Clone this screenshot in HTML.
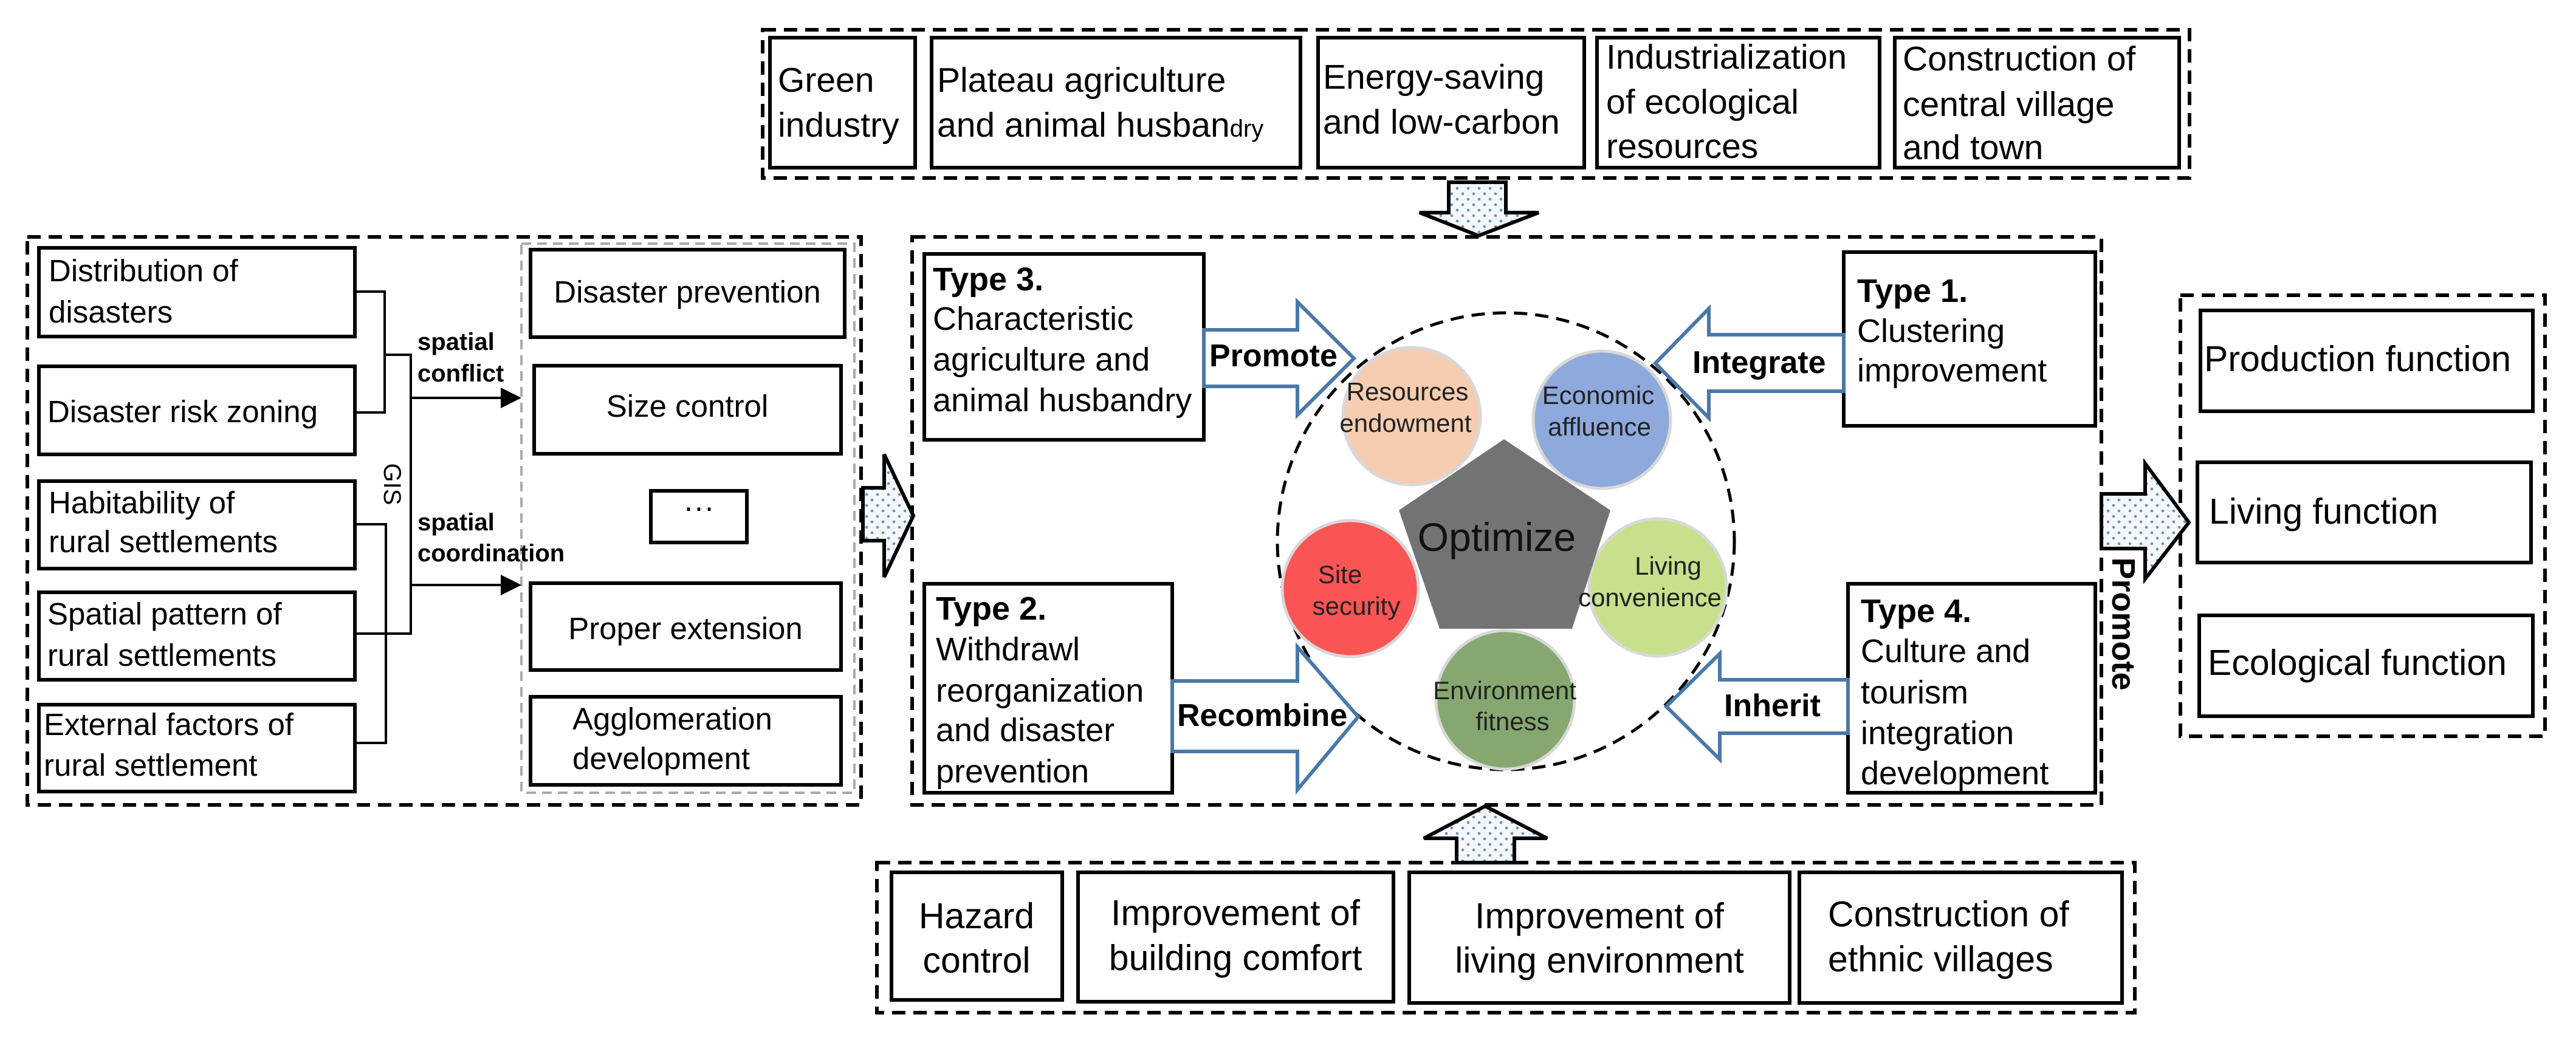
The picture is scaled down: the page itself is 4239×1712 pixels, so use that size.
<!DOCTYPE html>
<html><head><meta charset="utf-8"><style>html,body{margin:0;padding:0;background:#fff}svg{display:block}</style></head>
<body>
<svg xmlns="http://www.w3.org/2000/svg" width="4239" height="1712" viewBox="0 0 4239 1712" font-family="Liberation Sans, Arial, sans-serif">
<defs>
<pattern id="dots" width="18" height="18" patternUnits="userSpaceOnUse">
<rect width="18" height="18" fill="#f4f8fc"/>
<circle cx="4" cy="4" r="2.3" fill="#6a8fb8"/>
<circle cx="13" cy="13" r="2.3" fill="#6a8fb8"/>
</pattern>
</defs>
<g fill="none" stroke="#000" stroke-width="6" stroke-dasharray="22 13">
<rect x="1255" y="49" width="2348" height="244"/>
<rect x="45" y="390" width="1372" height="935"/>
<rect x="1501" y="390" width="1957" height="935"/>
<rect x="3588" y="486" width="600" height="726"/>
<rect x="1443" y="1420" width="2070" height="247"/>
<circle cx="2478" cy="891" r="376" stroke-width="5"/>
</g>
<rect x="858" y="401" width="548" height="904" fill="none" stroke="#aaa" stroke-width="4" stroke-dasharray="16 10"/>
<g fill="#fff" stroke="#000" stroke-width="6">
<rect x="1267" y="62" width="239" height="214"/>
<rect x="1533" y="62" width="607" height="214"/>
<rect x="2169" y="62" width="438" height="214"/>
<rect x="2628" y="62" width="465" height="214"/>
<rect x="3118" y="62" width="468" height="214"/>
<rect x="64" y="408" width="520" height="146"/>
<rect x="64" y="603" width="520" height="145"/>
<rect x="64" y="792" width="520" height="144"/>
<rect x="64" y="975" width="520" height="144"/>
<rect x="64" y="1160" width="520" height="143"/>
<rect x="873" y="411" width="517" height="144"/>
<rect x="879" y="602" width="505" height="145"/>
<rect x="1071" y="808" width="158" height="85"/>
<rect x="873" y="960" width="511" height="143"/>
<rect x="873" y="1147" width="511" height="145"/>
<rect x="1521" y="418" width="460" height="306"/>
<rect x="1521" y="961" width="408" height="344"/>
<rect x="3034" y="415" width="414" height="286"/>
<rect x="3041" y="961" width="407" height="344"/>
<rect x="3621" y="511" width="547" height="166"/>
<rect x="3616" y="761" width="549" height="165"/>
<rect x="3619" y="1013" width="549" height="166"/>
<rect x="1467" y="1436" width="281" height="210"/>
<rect x="1774" y="1436" width="519" height="213"/>
<rect x="2319" y="1436" width="626" height="215"/>
<rect x="2961" y="1436" width="531" height="215"/>
</g>
<g fill="none" stroke="#000" stroke-width="4">
<polyline points="584,480 633,480 633,679 584,679"/>
<polyline points="633,584 676,584 676,1043 584,1043"/>
<polyline points="584,863 635,863 635,1223 584,1223"/>
<line x1="676" y1="655" x2="826" y2="655"/>
<line x1="676" y1="963" x2="826" y2="963"/>
</g>
<polygon points="824,638 858,655 824,672" fill="#000"/>
<polygon points="824,946 858,963 824,980" fill="#000"/>
<g fill="url(#dots)" stroke="#000" stroke-width="6" stroke-linejoin="miter">
<polygon points="2384,300 2478,300 2478,350 2532,350 2433,388 2336,350 2384,350"/>
<polygon points="1420,803 1455,803 1455,748 1503,849 1455,950 1455,890 1420,890"/>
<polygon points="3458,813 3530,813 3530,763 3602,860 3530,953 3530,903 3458,903"/>
<polygon points="2397,1420 2492,1420 2492,1380 2546,1380 2444,1327 2343,1380 2397,1380"/>
</g>
<g fill="#fff" stroke="#4a78a8" stroke-width="6">
<polygon points="1981,543 2135,543 2135,497 2228,590 2135,683 2135,636 1981,636"/>
<polygon points="1929,1121 2135,1121 2135,1065 2235,1180 2135,1300 2135,1237 1929,1237"/>
<polygon points="3034,551 2812,551 2812,508 2724,598 2812,688 2812,644 3034,644"/>
<polygon points="3041,1119 2830,1119 2830,1076 2742,1163 2830,1250 2830,1207 3041,1207"/>
</g>
<g stroke="#d8d8d8" stroke-width="5">
<circle cx="2323" cy="685" r="113" fill="#f6cdb0"/>
<circle cx="2636" cy="691" r="113" fill="#8ea9db"/>
<circle cx="2222" cy="969" r="112" fill="#fa5454"/>
<circle cx="2728" cy="967" r="113" fill="#c6e08c"/>
<circle cx="2477" cy="1152" r="114" fill="#86a870"/>
</g>
<polygon points="2475,723 2650,840 2587,1035 2369,1035 2302,840" fill="#737373"/>
<g font-size="57" fill="#000">
<text x="1280" y="151">Green</text><text x="1280" y="225">industry</text>
<text x="1542" y="151">Plateau agriculture</text><text x="1542" y="225">and animal husban<tspan font-size="40">dry</tspan></text>
<text x="2177" y="146">Energy-saving</text><text x="2177" y="220">and low-carbon</text>
<text x="2643" y="113">Industrialization</text><text x="2643" y="187">of ecological</text><text x="2643" y="260">resources</text>
<text x="3131" y="116">Construction of</text><text x="3131" y="191">central village</text><text x="3131" y="262">and town</text>
</g>
<g font-size="51" fill="#000">
<text x="80" y="463">Distribution of</text><text x="80" y="531">disasters</text>
<text x="78" y="695">Disaster risk zoning</text>
<text x="80" y="845">Habitability of</text><text x="80" y="909">rural settlements</text>
<text x="78" y="1028">Spatial pattern of</text><text x="78" y="1096">rural settlements</text>
<text x="72" y="1210">External factors of</text><text x="72" y="1277">rural settlement</text>
<g text-anchor="middle">
<text x="1131" y="498">Disaster prevention</text>
<text x="1131" y="686">Size control</text>
<text x="1150" y="852">···</text>
<text x="1128" y="1052">Proper extension</text>
</g>
<text x="942" y="1201">Agglomeration</text><text x="942" y="1266">development</text>
</g>
<g font-size="40" font-weight="bold" fill="#000">
<text x="687" y="576">spatial</text><text x="687" y="628">conflict</text>
<text x="687" y="873">spatial</text><text x="687" y="924">coordination</text>
</g>
<text x="0" y="0" font-size="40" transform="translate(632,797) rotate(90)" text-anchor="middle">GIS</text>
<g font-size="54" fill="#000">
<text x="1535" y="478" font-weight="bold">Type 3.</text>
<text x="1535" y="543">Characteristic</text><text x="1535" y="610">agriculture and</text><text x="1535" y="677">animal husbandry</text>
<text x="1540" y="1020" font-weight="bold">Type 2.</text>
<text x="1540" y="1087">Withdrawl</text><text x="1540" y="1155">reorganization</text><text x="1540" y="1220">and disaster</text><text x="1540" y="1288">prevention</text>
<text x="3056" y="497" font-weight="bold">Type 1.</text>
<text x="3056" y="563">Clustering</text><text x="3056" y="628">improvement</text>
<text x="3062" y="1024" font-weight="bold">Type 4.</text>
<text x="3062" y="1090">Culture and</text><text x="3062" y="1158">tourism</text><text x="3062" y="1225">integration</text><text x="3062" y="1291">development</text>
</g>
<g font-size="52" font-weight="bold" fill="#000">
<text x="1990" y="603">Promote</text>
<text x="1937" y="1195">Recombine</text>
<text x="2785" y="614">Integrate</text>
<text x="2837" y="1179">Inherit</text>
</g>
<text x="0" y="0" font-size="54" font-weight="bold" transform="translate(3476,1027) rotate(90)" text-anchor="middle">Promote</text>
<text x="2463" y="907" font-size="66" text-anchor="middle" fill="#111">Optimize</text>
<g font-size="42" text-anchor="middle" fill="#222">
<text x="2316" y="659">Resources</text><text x="2313" y="711">endowment</text>
<text x="2630" y="665">Economic</text><text x="2632" y="717">affluence</text>
<text x="2205" y="960">Site</text><text x="2232" y="1012">security</text>
<text x="2745" y="946">Living</text><text x="2715" y="998">convenience</text>
<text x="2476" y="1151">Environment</text><text x="2489" y="1202">fitness</text>
</g>
<g font-size="59" fill="#000">
<text x="3627" y="611">Production function</text>
<text x="3635" y="862">Living function</text>
<text x="3633" y="1111">Ecological function</text>
<g text-anchor="middle">
<text x="1607" y="1528">Hazard</text><text x="1607" y="1601">control</text>
<text x="2033" y="1523">Improvement of</text><text x="2033" y="1597">building comfort</text>
<text x="2632" y="1528">Improvement of</text><text x="2632" y="1601">living environment</text>
</g>
<text x="3008" y="1525">Construction of</text><text x="3008" y="1599">ethnic villages</text>
</g>
</svg>
</body></html>
